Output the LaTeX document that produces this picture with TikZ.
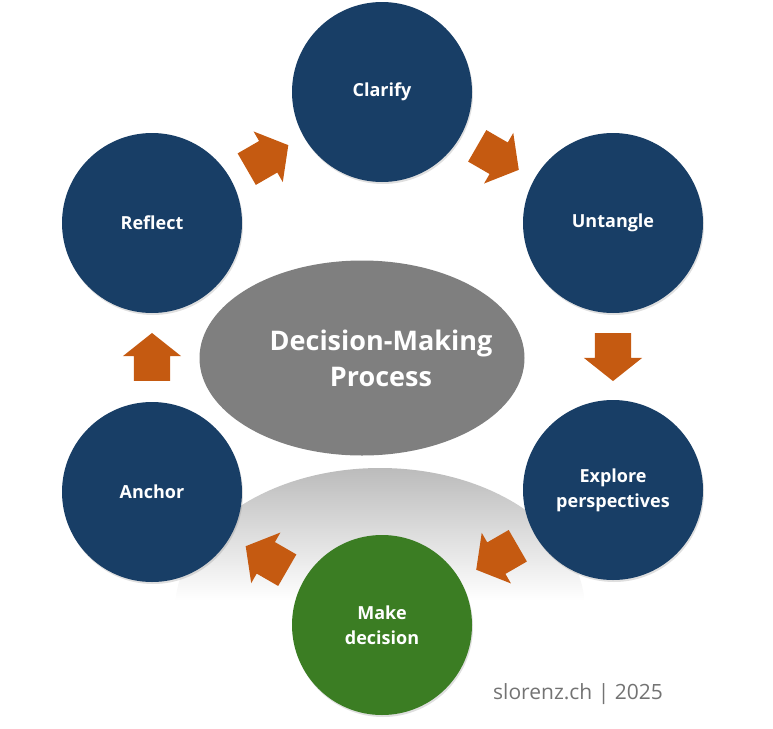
\documentclass[tikz,border=0pt]{standalone}
\usepackage{fontspec}
\setmainfont{Open Sans}
\usetikzlibrary{shapes.geometric,shapes.arrows,calc,shadows}
\definecolor{stepblue}{RGB}{24,62,102}
\definecolor{stepgreen}{RGB}{59,125,35}
\definecolor{steporange}{RGB}{197,90,17}
\definecolor{hubgray}{RGB}{127,127,127}
\begin{document}
\begin{tikzpicture}[x=1pt,y=-1pt,
  stage/.style = {circle, fill=stepblue, minimum size=180pt, inner sep=0pt,
    align=center, text=white, font=\bfseries\fontsize{18}{25}\selectfont,
    drop shadow={opacity=0.25, shadow xshift=1pt, shadow yshift=-2pt}},
  flow/.style = {single arrow, fill=steporange, inner xsep=0pt, inner ysep=18pt,
    minimum height=48pt, minimum width=58pt, single arrow head extend=11pt,
    single arrow tip angle=103}]
  \useasboundingbox (0,0) rectangle (773,728);
  % reflection under the hub
  \begin{scope}
    \clip (380,610) ellipse [x radius=205pt, y radius=142pt];
    \shade[top color=black!27, bottom color=white] (170,466) rectangle (590,600);
  \end{scope}
  \node[ellipse, fill=hubgray, minimum width=325pt, minimum height=195pt]
    (hub) at (362,358) {};
  \node[align=center, text=white, font=\bfseries\fontsize{27}{36}\selectfont]
    (hubtext) at ($(hub)+(19,0)$) {Decision-Making\\Process};
  \node[stage] (clarify) at (382,92) {Clarify};
  \node[stage] (untangle) at (613,223) {Untangle};
  \node[stage] (explore) at (613,490) {Explore\\perspectives};
  \node[stage, fill=stepgreen] (decide) at (382,625) {Make\\decision};
  \node[stage] (anchor) at (152,492) {Anchor};
  \node[stage] (reflect) at (152,223) {Reflect};
  \node[flow, rotate=30] (a1) at ($(reflect)!0.475!(clarify)$) {};
  \node[flow, rotate=-30] (a2) at ($(clarify)!0.475!(untangle)$) {};
  \node[flow, rotate=-90] (a3) at ($(untangle)!0.475!(explore)$) {};
  \node[flow, rotate=210] (a4) at ($(explore)!0.475!(decide)$) {};
  \node[flow, rotate=150] (a5) at ($(decide)!0.475!(anchor)$) {};
  \node[flow, rotate=90] (a6) at ($(anchor)!0.475!(reflect)$) {};
  \node[text=black!55, font=\fontsize{21}{25}\selectfont] (credit) at (578,694)
    {slorenz.ch | 2025};
\end{tikzpicture}
\end{document}
